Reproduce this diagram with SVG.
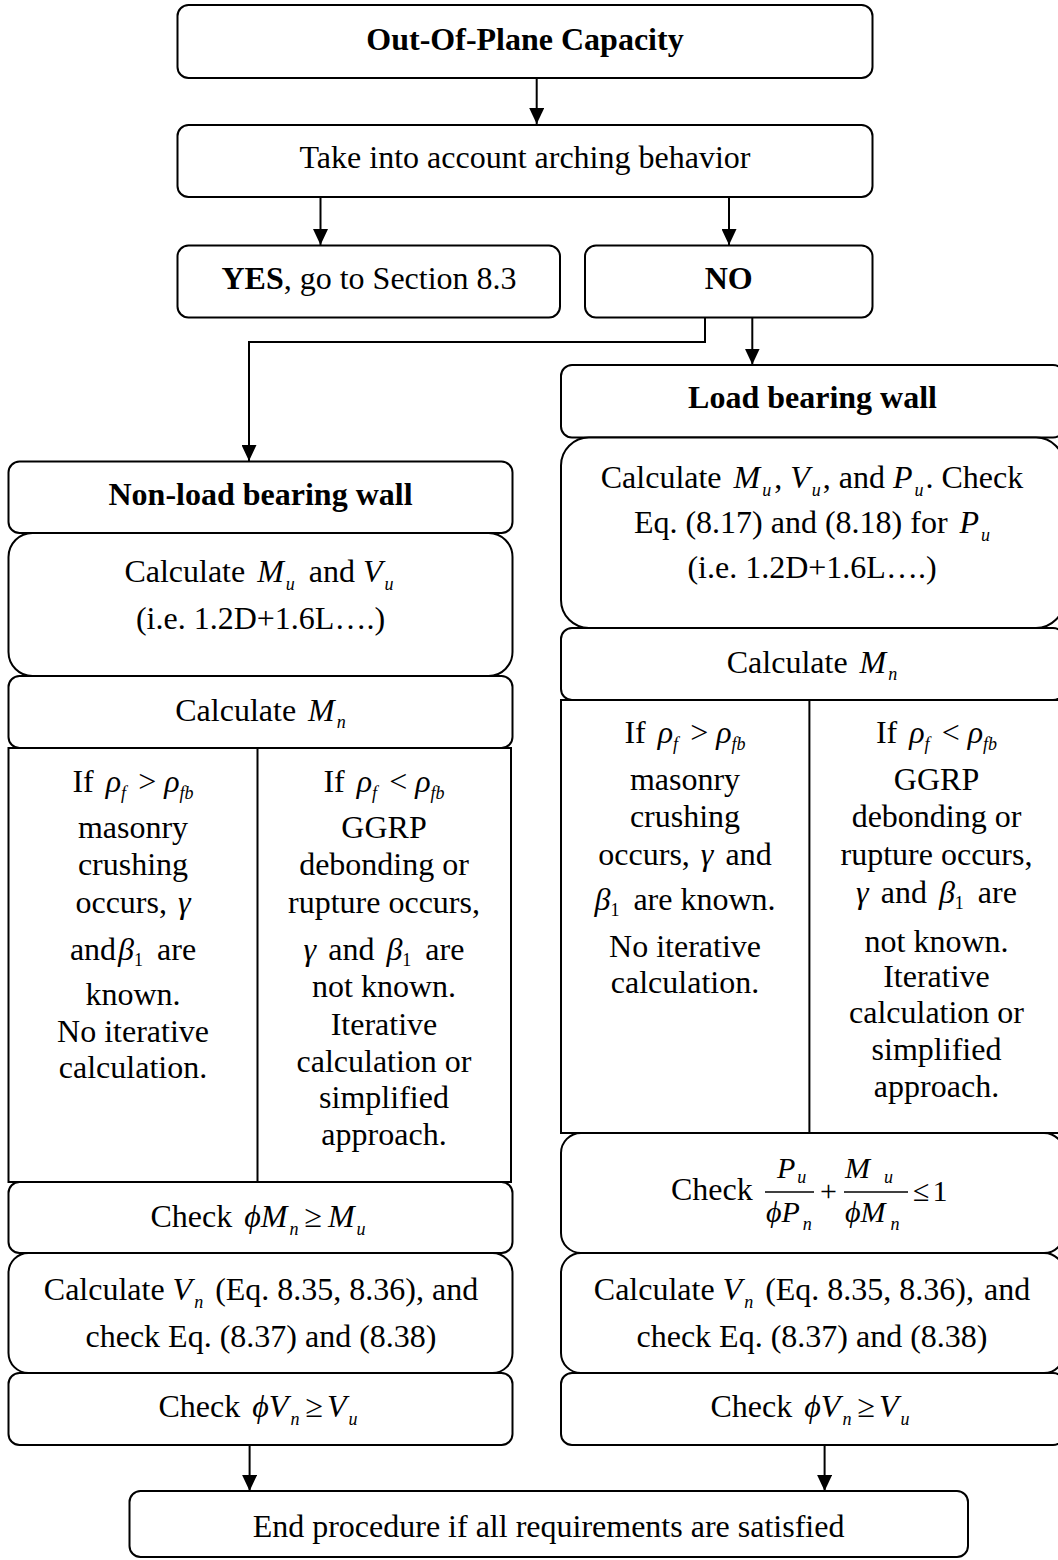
<svg xmlns="http://www.w3.org/2000/svg" width="1058" height="1560" viewBox="0 0 1058 1560">
<style>
.t{font-family:"Liberation Serif","Times New Roman",serif;font-size:32px;fill:#000;text-anchor:middle}
.st{text-anchor:start}
.b{font-weight:bold}
.i{font-style:italic}
.s{font-style:italic;font-size:18px}
.su{font-size:18px}
.f{font-size:30px}
.fs{font-style:italic;font-size:18px}
.box{fill:#fff;stroke:#000;stroke-width:2}
.con{fill:none;stroke:#000;stroke-width:2}
.bar{stroke:#000;stroke-width:1.4}
</style>
<defs>
<marker id="ah" markerUnits="userSpaceOnUse" markerWidth="16" markerHeight="15" refX="16" refY="7.5" orient="auto">
<path d="M0,0 L16,7.5 L0,15 z" fill="#000"/>
</marker>
</defs>
<rect width="1058" height="1560" fill="#fff"/>

<g id="connectors">
<path class="con" d="M536.7 78.5 V124" marker-end="url(#ah)"/>
<path class="con" d="M320.5 197 V245" marker-end="url(#ah)"/>
<path class="con" d="M729 197 V245" marker-end="url(#ah)"/>
<path class="con" d="M705 317.5 V342 H249 V461" marker-end="url(#ah)"/>
<path class="con" d="M752.3 317.5 V364.5" marker-end="url(#ah)"/>
<path class="con" d="M249.6 1445 V1491" marker-end="url(#ah)"/>
<path class="con" d="M824.6 1445 V1491" marker-end="url(#ah)"/>
</g>

<g id="n-start">
<rect class="box" x="177.5" y="5" width="695" height="73" rx="11"/>
<text class="t b" x="525" y="49.5">Out-Of-Plane Capacity</text>
</g>
<g id="n-arching">
<rect class="box" x="177.5" y="125" width="695" height="72" rx="11"/>
<text class="t" x="525" y="168">Take into account arching behavior</text>
</g>
<g id="n-yes">
<rect class="box" x="177.5" y="245.5" width="382.5" height="72" rx="11"/>
<text class="t" x="369" y="288.5"><tspan class="b">YES</tspan>, go to Section 8.3</text>
</g>
<g id="n-no">
<rect class="box" x="585" y="245.5" width="287.5" height="72" rx="11"/>
<text class="t b" x="728.7" y="288.5">NO</text>
</g>

<g id="n-nonload">
<rect class="box" x="8.5" y="461.5" width="504" height="71.5" rx="11"/>
<text class="t b" x="260.5" y="505">Non-load bearing wall</text>
</g>
<g id="n-left-loads">
<rect class="box" x="8.5" y="533" width="504" height="143" rx="24"/>
<text class="t" x="259" y="582">Calculate <tspan class="i" dx="4">M</tspan><tspan class="s" dy="8" dx="2">u</tspan><tspan dy="-8" dx="6"> and </tspan><tspan class="i">V</tspan><tspan class="s" dy="8" dx="2">u</tspan></text>
<text class="t" x="260.5" y="629">(i.e. 1.2D+1.6L….)</text>
</g>
<g id="n-left-mn">
<rect class="box" x="8.5" y="676" width="504" height="72" rx="11"/>
<text class="t" x="260.5" y="721">Calculate <tspan class="i" dx="4">M</tspan><tspan class="s" dy="7" dx="2">n</tspan></text>
</g>
<g id="n-left-table">
<rect x="8.5" y="748" width="502.5" height="434" fill="#fff" stroke="#000" stroke-width="2"/>
<line x1="257.5" y1="748" x2="257.5" y2="1182" stroke="#000" stroke-width="2"/>
<text class="t" x="133" y="792">If <tspan class="i" dx="4">ρ</tspan><tspan class="s" dy="7">f</tspan><tspan dy="-7" dx="4"> &gt; </tspan><tspan class="i">ρ</tspan><tspan class="s" dy="7">fb</tspan></text>
<text class="t" x="133" y="838">masonry</text>
<text class="t" x="133" y="875">crushing</text>
<text class="t" x="133" y="913">occurs, <tspan class="i" dx="3">γ</tspan></text>
<text class="t" x="133" y="960">and<tspan class="i" dx="2">β</tspan><tspan class="su" dy="6">1</tspan><tspan dy="-6" dx="6"> are</tspan></text>
<text class="t" x="133" y="1005">known.</text>
<text class="t" x="133" y="1042">No iterative</text>
<text class="t" x="133" y="1078">calculation.</text>
<text class="t" x="384" y="792">If <tspan class="i" dx="4">ρ</tspan><tspan class="s" dy="7">f</tspan><tspan dy="-7" dx="4"> &lt; </tspan><tspan class="i">ρ</tspan><tspan class="s" dy="7">fb</tspan></text>
<text class="t" x="384" y="838">GGRP</text>
<text class="t" x="384" y="875">debonding or</text>
<text class="t" x="384" y="913">rupture occurs,</text>
<text class="t" x="384" y="960"><tspan class="i">γ</tspan><tspan dx="4"> and </tspan><tspan class="i" dx="4">β</tspan><tspan class="su" dy="6">1</tspan><tspan dy="-6" dx="6"> are</tspan></text>
<text class="t" x="384" y="997">not known.</text>
<text class="t" x="384" y="1035">Iterative</text>
<text class="t" x="384" y="1072">calculation or</text>
<text class="t" x="384" y="1108">simplified</text>
<text class="t" x="384" y="1145">approach.</text>
</g>
<g id="n-left-checkm">
<rect class="box" x="8.5" y="1182" width="504" height="71" rx="11"/>
<text class="t" x="258" y="1227">Check <tspan class="i" dx="4">ϕM</tspan><tspan class="s" dy="8" dx="2">n</tspan><tspan dy="-8" dx="6">≥</tspan><tspan class="i" dx="6">M</tspan><tspan class="s" dy="8" dx="2">u</tspan></text>
</g>
<g id="n-left-vn">
<rect class="box" x="8.5" y="1253" width="504" height="120" rx="20"/>
<text class="t" x="261" y="1300">Calculate <tspan class="i">V</tspan><tspan class="s" dy="8" dx="2">n</tspan><tspan dy="-8" dx="4"> (Eq. 8.35, 8.36), and</tspan></text>
<text class="t" x="261" y="1347">check Eq. (8.37) and (8.38)</text>
</g>
<g id="n-left-checkv">
<rect class="box" x="8.5" y="1373" width="504" height="72" rx="11"/>
<text class="t" x="258" y="1417">Check <tspan class="i" dx="4">ϕV</tspan><tspan class="s" dy="8" dx="2">n</tspan><tspan dy="-8" dx="6">≥</tspan><tspan class="i" dx="4">V</tspan><tspan class="s" dy="8" dx="2">u</tspan></text>
</g>

<g id="n-load">
<rect class="box" x="561" y="365" width="503" height="72.5" rx="11"/>
<text class="t b" x="812.5" y="408">Load bearing wall</text>
</g>
<g id="n-right-loads">
<rect class="box" x="561" y="437.5" width="503" height="190.5" rx="28"/>
<text class="t" x="812" y="488">Calculate <tspan class="i" dx="4">M</tspan><tspan class="s" dy="8" dx="2">u</tspan><tspan dy="-8" dx="3">, </tspan><tspan class="i">V</tspan><tspan class="s" dy="8" dx="2">u</tspan><tspan dy="-8" dx="2">, and </tspan><tspan class="i">P</tspan><tspan class="s" dy="8" dx="2">u</tspan><tspan dy="-8" dx="2">. Check</tspan></text>
<text class="t" x="812" y="533">Eq. (8.17) and (8.18) for <tspan class="i" dx="4">P</tspan><tspan class="s" dy="8" dx="2">u</tspan></text>
<text class="t" x="812" y="578">(i.e. 1.2D+1.6L….)</text>
</g>
<g id="n-right-mn">
<rect class="box" x="561" y="628" width="503" height="72" rx="11"/>
<text class="t" x="812" y="673">Calculate <tspan class="i" dx="4">M</tspan><tspan class="s" dy="7" dx="2">n</tspan></text>
</g>
<g id="n-right-table">
<rect x="561" y="700" width="503" height="433" fill="#fff" stroke="#000" stroke-width="2"/>
<line x1="809.4" y1="700" x2="809.4" y2="1133" stroke="#000" stroke-width="2"/>
<text class="t" x="685" y="743">If <tspan class="i" dx="4">ρ</tspan><tspan class="s" dy="7">f</tspan><tspan dy="-7" dx="4"> &gt; </tspan><tspan class="i">ρ</tspan><tspan class="s" dy="7">fb</tspan></text>
<text class="t" x="685" y="790">masonry</text>
<text class="t" x="685" y="827">crushing</text>
<text class="t" x="685" y="865">occurs, <tspan class="i" dx="3">γ</tspan><tspan dx="4"> and</tspan></text>
<text class="t" x="685" y="910"><tspan class="i">β</tspan><tspan class="su" dy="6">1</tspan><tspan dy="-6" dx="6"> are known.</tspan></text>
<text class="t" x="685" y="957">No iterative</text>
<text class="t" x="685" y="993">calculation.</text>
<text class="t" x="936.5" y="743">If <tspan class="i" dx="4">ρ</tspan><tspan class="s" dy="7">f</tspan><tspan dy="-7" dx="4"> &lt; </tspan><tspan class="i">ρ</tspan><tspan class="s" dy="7">fb</tspan></text>
<text class="t" x="936.5" y="790">GGRP</text>
<text class="t" x="936.5" y="827">debonding or</text>
<text class="t" x="936.5" y="865">rupture occurs,</text>
<text class="t" x="936.5" y="903"><tspan class="i">γ</tspan><tspan dx="4"> and </tspan><tspan class="i" dx="4">β</tspan><tspan class="su" dy="6">1</tspan><tspan dy="-6" dx="6"> are</tspan></text>
<text class="t" x="936.5" y="952">not known.</text>
<text class="t" x="936.5" y="987">Iterative</text>
<text class="t" x="936.5" y="1023">calculation or</text>
<text class="t" x="936.5" y="1060">simplified</text>
<text class="t" x="936.5" y="1097">approach.</text>
</g>
<g id="n-right-interaction">
<rect class="box" x="561" y="1133" width="503" height="120" rx="20"/>
<text class="t st" x="671" y="1200">Check</text>
<text class="t st i f" x="777" y="1178">P<tspan class="fs" dy="5" dx="2">u</tspan></text>
<line class="bar" x1="765" y1="1192" x2="814" y2="1192"/>
<text class="t f" x="828.5" y="1201">+</text>
<text class="t st i f" x="845" y="1178">M<tspan class="fs" dy="5" dx="14">u</tspan></text>
<line class="bar" x1="844" y1="1192" x2="908" y2="1192"/>
<text class="t st i f" x="766" y="1222">ϕP<tspan class="fs" dy="8" dx="3">n</tspan></text>
<text class="t st i f" x="845" y="1222">ϕM<tspan class="fs" dy="8" dx="5">n</tspan></text>
<text class="t st f" x="913" y="1201">≤<tspan dx="3">1</tspan></text>
</g>
<g id="n-right-vn">
<rect class="box" x="561" y="1253" width="503" height="120" rx="20"/>
<text class="t" x="812" y="1300">Calculate <tspan class="i">V</tspan><tspan class="s" dy="8" dx="2">n</tspan><tspan dy="-8" dx="4"> (Eq. 8.35, 8.36),</tspan><tspan dx="10">and</tspan></text>
<text class="t" x="812" y="1347">check Eq. (8.37) and (8.38)</text>
</g>
<g id="n-right-checkv">
<rect class="box" x="561" y="1373" width="503" height="72" rx="11"/>
<text class="t" x="810" y="1417">Check <tspan class="i" dx="4">ϕV</tspan><tspan class="s" dy="8" dx="2">n</tspan><tspan dy="-8" dx="6">≥</tspan><tspan class="i" dx="4">V</tspan><tspan class="s" dy="8" dx="2">u</tspan></text>
</g>

<g id="n-end">
<rect class="box" x="129.5" y="1491" width="838.5" height="66" rx="11"/>
<text class="t" x="548.5" y="1537">End procedure if all requirements are satisfied</text>
</g>
</svg>
